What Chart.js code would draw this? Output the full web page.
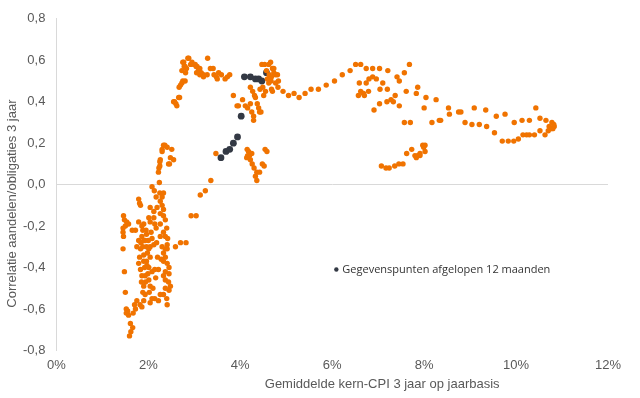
<!DOCTYPE html>
<html>
<head>
<meta charset="utf-8">
<script src="https://cdn.jsdelivr.net/npm/chart.js@4.4.1/dist/chart.umd.min.js"></script>
<style>
  html, body { margin: 0; padding: 0; background: #fff; }
  #wrap { width: 640px; height: 398px; }
</style>
</head>
<body>
<div id="wrap"><canvas id="scatter"></canvas></div>
<script>
// Gemiddelde kern-CPI (%) vs. correlatie aandelen/obligaties, [x, y]
const lowCluster = [
  [1.46,-0.15],[1.48,-0.17],[1.57,-0.19],[1.45,-0.21],[1.45,-0.23],[1.46,-0.25],[1.45,-0.31],[1.48,-0.42],
  [1.50,-0.52],[1.52,-0.60],[1.55,-0.61],[1.57,-0.63],[1.52,-0.62],[1.61,-0.67],[1.66,-0.69],[1.62,-0.71],
  [1.59,-0.73],[1.65,-0.22],[1.72,-0.22],[1.79,-0.18],[1.86,-0.20],[1.88,-0.22],[1.90,-0.19],[2.01,-0.16],
  [2.04,-0.18],[2.12,-0.16],[2.14,-0.19],[2.17,-0.21],[2.26,-0.19],[2.33,-0.23],[2.37,-0.25],[2.41,-0.29],
  [1.86,-0.25],[1.90,-0.27],[1.96,-0.24],[2.26,-0.25],[1.79,-0.07],[1.81,-0.09],[1.83,-0.10],[2.04,-0.11],
  [2.19,-0.11],[2.33,-0.12],[2.12,-0.13],[2.26,-0.14],[2.33,-0.15],[2.37,-0.17],[2.08,-0.01],[2.13,-0.03],
  [2.25,-0.04],[2.33,-0.04],[2.30,-0.06],[2.26,-0.08],[2.30,-0.10],[2.17,-0.06],[1.72,-0.60],[1.75,-0.56],
  [1.82,-0.58],[1.86,-0.59],[1.90,-0.56],[1.93,-0.53],[1.90,-0.49],[1.86,-0.44],[1.83,-0.41],[1.79,-0.38],
  [1.81,-0.35],[1.83,-0.31],[1.84,-0.28],[1.93,-0.27],[1.96,-0.30],[1.90,-0.34],[1.96,-0.37],[2.01,-0.40],
  [2.08,-0.42],[2.14,-0.41],[2.22,-0.41],[1.93,-0.44],[2.01,-0.46],[2.04,-0.49],[2.00,-0.27],[2.04,-0.30],
  [2.04,-0.35],[2.01,-0.31],[1.90,-0.37],[2.30,-0.30],[2.33,-0.33],[2.37,-0.35],[2.28,-0.36],[2.33,-0.37],
  [2.41,-0.38],[2.45,-0.40],[2.37,-0.42],[2.33,-0.44],[2.37,-0.46],[2.45,-0.43],[2.48,-0.49],[2.45,-0.51],
  [2.37,-0.50],[2.33,-0.53],[2.26,-0.53],[2.22,-0.56],[2.14,-0.55],[2.08,-0.55],[2.04,-0.57],[2.41,-0.58],
  [2.59,-0.30],[2.70,-0.28],[2.82,-0.28],[2.37,-0.31],[1.79,-0.27],[1.75,-0.30],[2.08,-0.26],[2.12,-0.29],
  [2.41,-0.31],[1.95,-0.22],[1.98,-0.33],[1.97,-0.39],[1.99,-0.43],[2.02,-0.52],[1.94,-0.47],[1.88,-0.30],
  [1.92,-0.40],[1.85,-0.47],[1.88,-0.52],[2.10,-0.50],[2.06,-0.23],[2.18,-0.28],[2.20,-0.35],[2.16,-0.45],
  [1.70,-0.58],[1.67,-0.62],[1.53,-0.18],[1.50,-0.20],[2.40,-0.21],[2.42,-0.26],[2.44,-0.47],[2.40,-0.55],
  [2.93,-0.15],[3.04,-0.15],[3.13,-0.05],[3.24,-0.03],[3.36,0.02]
];
const riseCluster = [
  [2.33,0.19],[2.41,0.18],[2.30,0.17],[2.51,0.17],[2.36,0.19],[2.48,0.13],[2.44,0.10],[2.26,0.12],
  [2.25,0.09],[2.22,0.06],[2.23,0.08],[2.24,0.01],[2.30,0.16],[2.46,0.10],[2.55,0.12],[2.25,0.11]
];
const peakCluster = [
  [2.55,0.40],[2.60,0.39],[2.62,0.38],[2.57,0.40],[2.66,0.42],[2.68,0.42],[2.67,0.47],[2.70,0.48],
  [2.73,0.49],[2.75,0.50],[2.80,0.50],[2.75,0.59],[2.77,0.59],[2.86,0.61],[2.88,0.61],[2.78,0.57],
  [2.80,0.57],[2.81,0.54],[2.73,0.55],[2.83,0.56],[2.92,0.58],[2.95,0.59],[2.99,0.58],[3.02,0.58],
  [3.04,0.57],[3.06,0.57],[3.09,0.55],[3.12,0.56],[3.12,0.53],[3.15,0.54],[3.20,0.53],[3.20,0.52],
  [3.05,0.54],[3.28,0.53],[3.29,0.61],[3.35,0.56],[3.41,0.56],[3.43,0.53],[3.48,0.52],[3.53,0.54],
  [3.59,0.53],[3.50,0.51],[3.67,0.51],[3.72,0.52],[3.77,0.53]
];
const midCluster = [
  [3.85,0.43],[3.93,0.38],[3.96,0.38],[4.05,0.41],[4.11,0.38],[4.16,0.37],[4.22,0.39],[4.25,0.35],
  [4.29,0.33],[4.29,0.31],[4.22,0.47],[4.27,0.45],[4.31,0.43],[4.33,0.42],[4.37,0.39],[4.40,0.37],
  [4.42,0.35],[4.45,0.35],[4.43,0.46],[4.47,0.58],[4.53,0.58],[4.62,0.58],[4.66,0.59],[4.70,0.56],
  [4.73,0.56],[4.73,0.54],[4.77,0.53],[4.81,0.53],[4.63,0.53],[4.68,0.52],[4.59,0.51],[4.67,0.50],
  [4.62,0.49],[4.83,0.50],[4.77,0.49],[4.82,0.47],[4.49,0.47],[4.55,0.45],[4.51,0.43],[4.70,0.45],
  [4.68,0.46],[4.93,0.45],[5.05,0.43],[5.17,0.44],[5.28,0.42],[4.57,0.55],
  [3.47,0.15],[4.15,0.17],[4.18,0.16],[4.20,0.14],[4.25,0.15],[4.14,0.13],[4.22,0.12],[4.26,0.10],
  [4.30,0.08],[4.54,0.17],[4.58,0.16],[4.48,0.10],[4.52,0.09],[4.36,0.06],[4.42,0.06],[4.33,0.04],
  [4.36,0.02],[4.16,0.14]
];
const highCluster = [
  [5.41,0.44],[5.54,0.46],[5.70,0.46],[5.87,0.48],[6.05,0.50],[6.22,0.53],[6.39,0.55],[6.51,0.58],
  [6.62,0.58],[6.74,0.56],[6.88,0.56],[7.03,0.56],[7.21,0.55],[7.68,0.58],[7.57,0.54],[7.41,0.52],
  [7.46,0.50],[6.80,0.51],[6.88,0.52],[6.96,0.51],[6.74,0.49],[6.59,0.49],[6.62,0.45],[6.68,0.44],
  [6.57,0.43],[6.70,0.43],[6.79,0.45],[7.10,0.49],[7.04,0.46],[7.20,0.46],[7.37,0.43],[7.28,0.41],
  [7.33,0.40],[7.19,0.40],[7.03,0.39],[6.91,0.36],[7.46,0.38],[7.61,0.45],[7.86,0.47],[7.83,0.44],
  [8.04,0.42],[8.00,0.37],[8.26,0.41],[7.57,0.30],[7.70,0.30],[8.17,0.30],[8.33,0.31],
  [7.07,0.09],[7.17,0.08],[7.24,0.08],[7.36,0.09],[7.45,0.10],[7.54,0.10],[7.62,0.15],[7.73,0.17],
  [7.83,0.13],[7.86,0.14],[7.91,0.15],[7.97,0.19],[8.02,0.19],[7.99,0.18],[8.02,0.16],[7.91,0.14],
  [7.80,0.14]
];
const tailCluster = [
  [8.36,0.31],[8.53,0.37],[8.55,0.34],[8.75,0.35],[8.80,0.35],[8.89,0.30],[9.04,0.29],[9.09,0.37],
  [9.20,0.29],[9.34,0.36],[9.36,0.28],[9.53,0.25],[9.57,0.33],[9.70,0.21],[9.76,0.34],[9.83,0.21],
  [9.95,0.21],[9.96,0.30],[10.05,0.22],[10.13,0.31],[10.15,0.24],[10.23,0.24],[10.29,0.24],[10.29,0.31],
  [10.40,0.24],[10.43,0.37],[10.52,0.32],[10.52,0.26],[10.63,0.24],[10.65,0.31],[10.70,0.26],[10.72,0.28],
  [10.78,0.30],[10.80,0.27],[10.76,0.27],[10.83,0.28],[10.82,0.29]
];
// laatste 12 maanden
const last12 = [
  [3.58,0.13],[3.69,0.16],[3.77,0.17],[3.85,0.20],[3.94,0.23],[4.02,0.33],
  [4.09,0.52],[4.22,0.52],[4.33,0.51],[4.40,0.51],[4.47,0.50],[4.57,0.54]
];
const legendSpot = [[6.09,-0.41]];
const legendText = "Gegevenspunten afgelopen 12 maanden";

const yTicks = [-0.8, -0.6, -0.4, -0.2, 0, 0.2, 0.4, 0.6, 0.8];
const xTicks = [0, 2, 4, 6, 8, 10, 12];
const xTitle = "Gemiddelde kern-CPI 3 jaar op jaarbasis";
const yTitle = "Correlatie aandelen/obligaties 3 jaar";

const ORANGE = "#f07300";
const DARK = "#333944";
const GREY = "#595959";
const FONT = "'Liberation Sans', Arial, sans-serif";

const toXY = arr => arr.map(p => ({ x: p[0], y: p[1] }));
const history = [].concat(lowCluster, riseCluster, peakCluster, midCluster, highCluster, tailCluster);

// axis titles (sit a bit off-centre in the original) and the label next to the legend dot
const extraText = {
  id: "extraText",
  afterDraw(chart) {
    const ctx = chart.ctx;
    const area = chart.chartArea;
    ctx.save();
    ctx.fillStyle = GREY;
    ctx.font = "13px " + FONT;
    ctx.textAlign = "center";
    ctx.textBaseline = "middle";
    ctx.fillText(xTitle, area.left + (area.right - area.left) * 0.5 + 50, 384);
    ctx.translate(12, area.top + (area.bottom - area.top) * 0.5 + 19);
    ctx.rotate(-Math.PI / 2);
    ctx.fillText(yTitle, 0, 0);
    ctx.restore();

    const pt = chart.getDatasetMeta(2).data[0];
    if (!pt) return;
    ctx.save();
    ctx.font = "11px 'Open Sans', sans-serif";
    ctx.fillStyle = "#333333";
    ctx.textBaseline = "middle";
    ctx.fillText(legendText, pt.x + 6, pt.y);
    ctx.restore();
  }
};

new Chart(document.getElementById("scatter"), {
  type: "scatter",
  data: {
    datasets: [{
      label: "Historie",
      data: toXY(history),
      backgroundColor: ORANGE,
      borderWidth: 0,
      pointRadius: 2.7
    }, {
      label: "Afgelopen 12 maanden",
      data: toXY(last12),
      backgroundColor: DARK,
      borderWidth: 0,
      pointRadius: 3.4
    }, {
      label: "legend",
      data: toXY(legendSpot),
      backgroundColor: DARK,
      borderWidth: 0,
      pointRadius: 2.2
    }]
  },
  options: {
    responsive: true,
    maintainAspectRatio: false,
    animation: false,
    events: [],
    layout: { padding: { top: 10, right: 32, bottom: 18, left: 12 } },
    plugins: {
      legend: { display: false },
      tooltip: { enabled: false }
    },
    scales: {
      x: {
        type: "linear",
        min: 0,
        max: 12,
        afterBuildTicks: axis => { axis.ticks = xTicks.map(v => ({ value: v })); },
        ticks: {
          callback: v => v + "%",
          color: GREY,
          padding: 7,
          maxRotation: 0,
          font: { family: FONT, size: 13 }
        },
        grid: { display: false, drawTicks: false },
        border: { display: false }
      },
      y: {
        min: -0.8,
        max: 0.8,
        afterBuildTicks: axis => { axis.ticks = yTicks.map(v => ({ value: v })); },
        ticks: {
          callback: v => v.toFixed(1).replace(".", ","),
          color: GREY,
          padding: 11,
          font: { family: FONT, size: 13 }
        },
        grid: {
          drawTicks: false,
          color: ctx => (ctx.tick && Math.abs(ctx.tick.value) < 1e-9) ? "#d9d9d9" : "rgba(0,0,0,0)",
          lineWidth: 1
        },
        border: { display: true, color: "#d9d9d9" }
      }
    }
  },
  plugins: [extraText]
});
</script>
</body>
</html>
